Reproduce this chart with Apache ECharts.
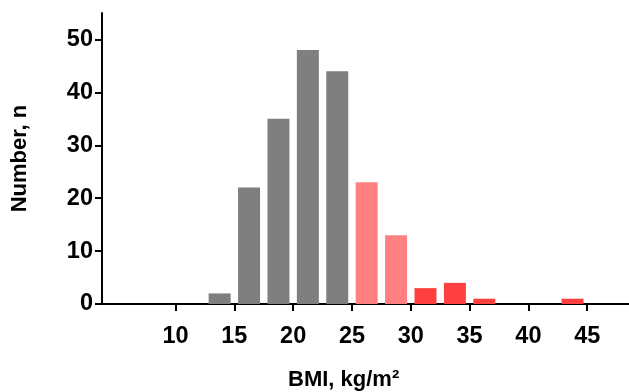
<!DOCTYPE html>
<html>
<head>
<meta charset="utf-8">
<script src="https://cdn.jsdelivr.net/npm/echarts@6/dist/echarts.min.js"></script>
<style>html,body{margin:0;padding:0;background:#fff}#c{width:629px;height:392px}</style>
</head>
<body>
<div id="c"></div>
<script>
// BMI bin centres (bin width 2.5 kg/m²)
const binCenters = [13.75, 16.25, 18.75, 21.25, 23.75, 26.25, 28.75, 31.25, 33.75, 36.25, 38.75, 41.25, 43.75];
// Number of subjects per bin
const counts = [2, 22, 35, 48, 44, 23, 13, 3, 4, 1, 0, 0, 1];
// Weight class of each bin: 0 = under/normal, 1 = overweight, 2 = obese
const classes = [0, 0, 0, 0, 0, 1, 1, 2, 2, 2, 2, 2, 2];
const classColors = ['#7f7f7f', '#ff8080', '#ff4040'];
// Axis tick labels
const xTicks = [10, 15, 20, 25, 30, 35, 40, 45];
const yTicks = [0, 10, 20, 30, 40, 50];

const font = '"Liberation Sans", Arial, sans-serif';
const chart = echarts.init(document.getElementById('c'), null, {renderer: 'canvas'});
chart.setOption({
  animation: false,
  backgroundColor: '#fff',
  grid: {left: 102, right: 0, top: 13, bottom: 88, containLabel: false},
  xAxis: {
    type: 'value', min: 3.75, max: 48.55,
    splitLine: {show: false},
    axisLine: {show: true, onZero: false, lineStyle: {color: '#000', width: 2}},
    axisTick: {show: true, length: 7, customValues: xTicks, lineStyle: {color: '#000', width: 2}},
    axisLabel: {customValues: xTicks, margin: 21, color: '#000', fontSize: 23.5, fontWeight: 'bold', fontFamily: font}
  },
  yAxis: {
    type: 'value', min: 0, max: 55,
    name: 'Number, n', nameLocation: 'middle', nameGap: 71,
    nameTextStyle: {color: '#000', fontSize: 22, fontWeight: 'bold', fontFamily: font},
    splitLine: {show: false},
    axisLine: {show: true, lineStyle: {color: '#000', width: 2}},
    axisTick: {show: true, length: 7, customValues: yTicks, lineStyle: {color: '#000', width: 2}},
    axisLabel: {customValues: yTicks, margin: 9, color: '#000', fontSize: 23.5, fontWeight: 'bold', fontFamily: font}
  },
  graphic: [{
    type: 'text', left: 288, top: 369,
    style: {text: 'BMI, kg/m²', fill: '#000', font: 'bold 22px ' + font}
  }],
  series: [{
    type: 'bar',
    barWidth: 22,
    data: binCenters.map((x, i) => ({
      value: [x, counts[i]],
      itemStyle: {color: classColors[classes[i]]}
    }))
  }]
});
</script>
</body>
</html>
